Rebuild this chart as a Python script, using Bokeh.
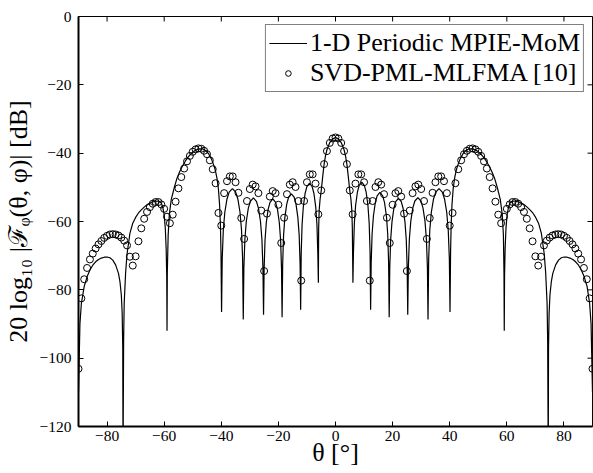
from math import pi
from bokeh.plotting import figure
from bokeh.models import LinearAxis, Range1d, Legend, LegendItem, FixedTicker
from bokeh.embed import file_html
from bokeh.resources import INLINE

# 1-D Periodic MPIE-MoM (solid line)
theta_line = [
    -90.0, -89.5, -89.0, -88.0, -87.0, -86.0, -85.0, -84.0, -83.0, -82.0, -81.0, -80.0, -79.0, -78.0, -77.0, -76.0, -75.5, -75.0, -74.7, -74.5, -74.4,
    -74.2, -74.0, -73.5, -73.0, -72.0, -71.0, -70.0, -69.0, -68.0, -67.0, -66.0, -65.0, -64.0, -63.0, -62.0, -61.0, -60.5, -60.0, -59.6, -59.3, -59.1, -59.0,
    -58.9, -58.6, -58.2, -57.5, -56.5, -55.5, -54.5, -53.5, -52.5, -51.5, -50.5, -49.5, -48.5, -47.5, -46.5, -45.5, -44.5, -43.5, -42.5, -42.0, -41.5, -41.0, -40.6, -40.3, -40.1, -39.9,
    -39.67, -39.29, -38.76, -38.0, -37.24, -36.1, -34.96, -34.2, -33.44, -32.91, -32.53, -32.3,
    -32.09, -31.73, -31.24, -30.53, -29.82, -28.75, -27.69, -26.98, -26.27, -25.77, -25.41, -25.2,
    -25.0, -24.68, -24.23, -23.58, -22.93, -21.95, -20.98, -20.33, -19.68, -19.22, -18.9, -18.7,
    -18.5, -18.18, -17.73, -17.08, -16.43, -15.45, -14.48, -13.83, -13.18, -12.72, -12.4, -12.2,
    -12.01, -11.7, -11.27, -10.65, -10.03, -9.1, -8.17, -7.55, -6.93, -6.5, -6.19, -6.0,
    -5.9, -5.7, -5.4, -5.0, -4.5, -4.0, -3.5, -3.0, -2.0, -1.0, 0.0, 1.0, 2.0, 3.0, 3.5, 4.0, 4.5, 5.0, 5.4, 5.7, 5.9, 6.1,
    6.29, 6.6, 7.03, 7.65, 8.27, 9.2, 10.13, 10.75, 11.37, 11.8, 12.11, 12.3,
    12.5, 12.82, 13.28, 13.93, 14.58, 15.55, 16.53, 17.18, 17.83, 18.28, 18.6, 18.8,
    19.0, 19.32, 19.78, 20.43, 21.08, 22.05, 23.03, 23.68, 24.33, 24.78, 25.1, 25.3,
    25.51, 25.87, 26.37, 27.08, 27.79, 28.85, 29.92, 30.63, 31.34, 31.83, 32.19, 32.4,
    32.63, 33.02, 33.56, 34.33, 35.1, 36.25, 37.41, 38.18, 38.95, 39.48, 39.87, 40.1,
    40.3, 40.5, 40.8, 41.2, 41.7, 42.2, 42.7, 43.7, 44.7, 45.7, 46.7, 47.7, 48.7, 49.7, 50.7, 51.7, 52.7, 53.7, 54.7, 55.7, 56.7, 57.7, 58.4, 58.8, 59.0, 59.1,
    59.2, 59.4, 59.7, 60.1, 60.6, 61.1, 62.1, 63.1, 64.1, 65.1, 66.1, 67.1, 68.1, 69.1, 70.1, 71.1, 72.1, 73.1, 73.6, 74.1, 74.3, 74.5,
    74.6, 74.8, 75.1, 75.6, 76.1, 77.1, 78.1, 79.1, 80.1, 81.1, 82.1, 83.1, 84.1, 85.1, 86.1, 87.1, 88.1, 89.0, 89.5, 90.0,
]
db_line = [
    -110, -90, -84, -79, -76.2, -74.2, -72.8, -71.8, -71.1, -70.7, -70.45, -70.4, -70.6, -71.3, -72.7, -75.2, -77.5, -81.5, -87, -97, -130,
    -95, -84, -75, -69.5, -63.5, -60.5, -58.8, -57.5, -56.6, -55.8, -55.1, -54.6, -54.3, -54.05, -54.0, -54.6, -55.8, -58.0, -62, -68, -76, -92,
    -75, -64, -58, -53.5, -50.2, -47.3, -45.3, -43.6, -42.2, -41.0, -40.1, -39.4, -38.95, -38.7, -38.75, -39.2, -40.1, -41.6, -43.8, -45.3, -47.4, -50.5, -55, -61, -69, -86.5,
    -70.9, -62.5, -57.3, -53.4, -51.4, -50.4, -51.4, -53.4, -57.3, -62.5, -70.9, -88.7,
    -73.6, -65.2, -60.0, -56.1, -54.1, -53.1, -54.1, -56.1, -60.0, -65.2, -73.6, -87.3,
    -73.9, -65.5, -60.3, -56.4, -54.4, -53.4, -54.4, -56.4, -60.3, -65.5, -73.9, -88.0,
    -72.4, -64.0, -58.8, -54.9, -52.9, -51.9, -52.9, -54.9, -58.8, -64.0, -72.4, -85.8,
    -69.3, -60.9, -55.7, -51.8, -49.8, -48.8, -49.8, -51.8, -55.7, -60.9, -69.3, -77.9,
    -62, -56.5, -53.5, -51.0, -47.0, -43.3, -40.8, -39.0, -36.9, -35.8, -35.4, -35.8, -36.9, -39.0, -40.8, -43.3, -47.0, -51.0, -53.5, -56.5, -62, -77.9,
    -69.0, -60.6, -55.4, -51.5, -49.5, -48.5, -49.5, -51.5, -55.4, -60.6, -69.0, -85.8,
    -72.0, -63.6, -58.4, -54.5, -52.5, -51.5, -52.5, -54.5, -58.4, -63.6, -72.0, -88.0,
    -73.7, -65.3, -60.1, -56.2, -54.2, -53.2, -54.2, -56.2, -60.1, -65.3, -73.7, -87.3,
    -73.5, -65.1, -59.9, -56.0, -54.0, -53.0, -54.0, -56.0, -59.9, -65.1, -73.5, -88.7,
    -70.9, -62.5, -57.3, -53.4, -51.4, -50.4, -51.4, -53.4, -57.3, -62.5, -70.9, -86.5,
    -69, -61, -55, -50.5, -47.4, -45.3, -43.8, -41.6, -40.1, -39.2, -38.75, -38.7, -38.95, -39.4, -40.1, -41.0, -42.2, -43.6, -45.3, -47.3, -50.2, -53.5, -58, -64, -75, -92,
    -76, -68, -62, -58, -55.8, -54.6, -54.0, -54.05, -54.3, -54.6, -55.1, -55.8, -56.6, -57.5, -58.8, -60.5, -63.5, -69.5, -75, -84, -95, -130,
    -97, -87, -81.5, -77.5, -75.2, -72.7, -71.3, -70.6, -70.4, -70.45, -70.7, -71.1, -71.8, -72.8, -74.2, -76.2, -79, -84, -90, -110,
]

# SVD-PML-MLFMA [10] (circles, one per degree from -90 to 90)
theta_circ = list(range(-90, 91))
db_circ = [
    -103.1, -82.5, -76.9, -73.6, -71.1, -69.4, -67.9, -66.7, -65.7, -64.8,
    -64.2, -63.8, -63.7, -63.8, -64.1, -64.7, -65.6, -67.0, -70.3, -72.9,
    -70.2, -65.8, -62.0, -59.2, -57.2, -55.8, -54.8, -54.3, -54.3, -55.0,
    -56.3, -58.6, -60.5, -58.0, -54.2, -50.3, -47.0, -44.5, -42.4, -40.8,
    -39.6, -38.9, -38.6, -38.7, -39.3, -40.3, -42.1, -44.7, -48.8, -57.5,
    -61.2, -51.7, -48.2, -46.8, -46.8, -48.5, -51.6, -59.0, -65.1, -54.0,
    -50.5, -49.2, -49.7, -51.7, -56.8, -74.5, -57.7, -52.7, -51.1, -51.7,
    -55.1, -66.3, -58.9, -52.0, -49.2, -48.5, -49.9, -54.0, -77.3, -54.0,
    -48.5, -46.2, -46.2, -48.9, -57.9, -50.9, -43.2, -39.4, -37.0, -35.7,
    -35.4,
    -35.7, -37.0, -39.4, -43.2, -50.9, -57.9, -48.9, -46.2, -46.2, -48.5,
    -54.0, -77.3, -54.0, -49.9, -48.5, -49.2, -52.0, -58.9, -66.3, -55.1,
    -51.7, -51.1, -52.7, -57.7, -74.5, -56.8, -51.7, -49.7, -49.2, -50.5,
    -54.0, -65.1, -59.0, -51.6, -48.5, -46.8, -46.8, -48.2, -51.7, -61.2,
    -57.5, -48.8, -44.7, -42.1, -40.3, -39.3, -38.7, -38.6, -38.9, -39.6,
    -40.8, -42.4, -44.5, -47.0, -50.3, -54.2, -58.0, -60.5, -58.6, -56.3,
    -55.0, -54.3, -54.3, -54.8, -55.8, -57.2, -59.2, -62.0, -65.8, -70.2,
    -72.9, -70.3, -67.0, -65.6, -64.7, -64.1, -63.8, -63.7, -63.8, -64.2,
    -64.8, -65.7, -66.7, -67.9, -69.4, -71.1, -73.6, -76.9, -82.5, -103.1,
]

x_ticks = [-80, -60, -40, -20, 0, 20, 40, 60, 80]
x_tick_labels = ["\u221280", "\u221260", "\u221240", "\u221220", "0", "20", "40", "60", "80"]
y_ticks = [-120, -100, -80, -60, -40, -20, 0]
y_tick_labels = ["\u2212120", "\u2212100", "\u221280", "\u221260", "\u221240", "\u221220", "0"]

X_MIN, X_MAX = -90, 90
Y_MIN, Y_MAX = -120, 0

FONT = "Liberation Serif"

p = figure(width=593, height=473, output_backend="svg", toolbar_location=None,
           x_range=Range1d(X_MIN, X_MAX), y_range=Range1d(Y_MIN, Y_MAX),
           x_axis_location=None, y_axis_location=None,
           min_border_left=78, min_border_right=1, min_border_top=16, min_border_bottom=47)
p.outline_line_color = "black"
p.outline_line_width = 1
p.xgrid.visible = False
p.ygrid.visible = False
p.background_fill_color = "white"
p.border_fill_color = "white"


def style_axis(ax):
    ax.major_tick_in = 5
    ax.major_tick_out = 0
    ax.minor_tick_in = 0
    ax.minor_tick_out = 0
    ax.axis_line_color = "black"
    ax.axis_line_width = 2
    ax.major_tick_line_color = "black"
    ax.major_tick_line_width = 1
    ax.major_label_text_font = FONT
    ax.major_label_text_font_size = "15.5px"
    ax.major_label_text_color = "black"
    ax.axis_label_text_font = FONT
    ax.axis_label_text_font_size = "26px"
    ax.axis_label_text_font_style = "normal"
    ax.axis_label_text_color = "black"


bottom = LinearAxis(ticker=FixedTicker(ticks=x_ticks),
                    major_label_overrides=dict(zip(x_ticks, x_tick_labels)),
                    axis_label="\u03b8 [\u00b0]")
style_axis(bottom)
bottom.major_label_standoff = 4
bottom.axis_label_standoff = -6
p.add_layout(bottom, "below")

left = LinearAxis(ticker=FixedTicker(ticks=y_ticks),
                  major_label_overrides=dict(zip(y_ticks, y_tick_labels)),
                  axis_label="20 log\u2081\u2080 |\u2131\u1d69(\u03b8, \u03c6)| [dB]")
style_axis(left)
left.major_label_standoff = 7
left.axis_label_standoff = 4
p.add_layout(left, "left")

# inward tick marks on the top and right edges of the box
p.scatter(x=x_ticks, y=[Y_MAX] * len(x_ticks), marker="dash", angle=pi / 2, size=10,
          line_color="black", line_width=1)
p.scatter(x=[X_MAX] * len(y_ticks), y=y_ticks, marker="dash", angle=0, size=10,
          line_color="black", line_width=1)

line_r = p.line(theta_line, db_line, line_color="black", line_width=1.2)
circ_r = p.scatter(theta_circ, db_circ, marker="circle", size=7,
                   fill_color=None, line_color="black", line_width=1)

legend = Legend(items=[LegendItem(label="1-D Periodic MPIE-MoM", renderers=[line_r]),
                       LegendItem(label="SVD-PML-MLFMA [10]", renderers=[circ_r])],
                location="top_right")
legend.label_text_font = FONT
legend.label_text_font_size = "26px"
legend.label_text_color = "black"
legend.label_height = 30
legend.border_line_color = "black"
legend.border_line_width = 1.5
legend.background_fill_color = "white"
legend.background_fill_alpha = 1
legend.glyph_width = 38
legend.glyph_height = 14
legend.label_standoff = 3
legend.padding = 3
legend.spacing = 0
legend.margin = 8
p.add_layout(legend)

open("out.html", "w").write(file_html(p, INLINE))
